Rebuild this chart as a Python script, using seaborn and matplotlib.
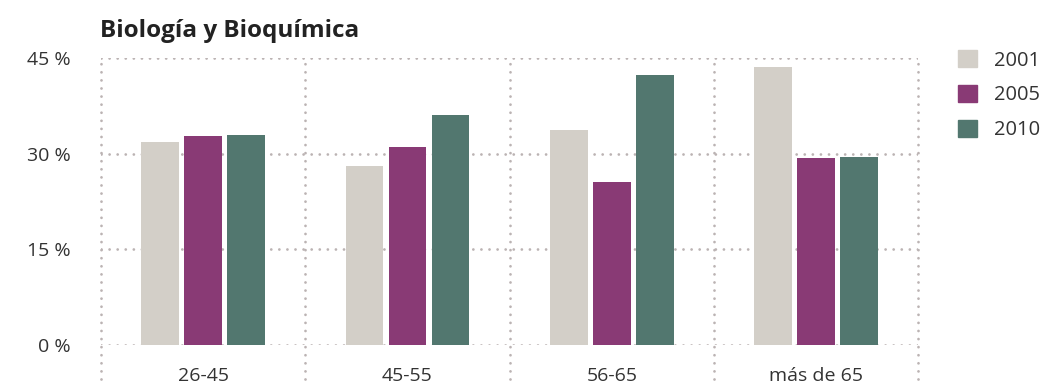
import pandas as pd
import matplotlib.pyplot as plt
import seaborn as sns

# datos
edades = ["26-45", "45-55", "56-65", "más de 65"]
anios = ["2001", "2005", "2010"]
v2001 = [31.8, 28.1, 33.7, 43.6]
v2005 = [32.8, 31.0, 25.6, 29.3]
v2010 = [32.9, 36.1, 42.3, 29.5]
colores = ["#D3CFC8", "#893A75", "#52776F"]
yticks = [0, 15, 30, 45]

df = pd.DataFrame({
    "edad": edades * 3,
    "anio": [a for a in anios for _ in edades],
    "valor": v2001 + v2005 + v2010,
})

sns.set_style("white")
plt.rcParams["font.family"] = ["Open Sans", "DejaVu Sans"]

fig = plt.figure(figsize=(10.47, 3.9), dpi=100)
ax = fig.add_axes([0.0965, 0.1154, 0.7805, 0.7359])

sns.barplot(data=df, x="edad", y="valor", hue="anio", palette=colores,
            saturation=1, width=0.63, gap=0.12, linewidth=0,
            ax=ax, legend=False, zorder=3)

ax.set_xlim(-0.5, 3.5)
ax.set_ylim(0, 45)
for s in ax.spines.values():
    s.set_visible(False)

grid_kw = dict(color="#BBB3B3", linewidth=2.0, linestyle=(0, (0.01, 2.9)),
               dash_capstyle="round", zorder=1)
for y in yticks:
    ax.axhline(y, **grid_kw)
for x in [-0.5, 0.5, 1.5, 2.5, 3.5]:
    ax.axvline(x, ymin=-0.12, ymax=1, clip_on=False, **grid_kw)

ax.set_yticks(yticks)
ax.set_yticklabels([f"{t} %" for t in yticks])
ax.tick_params(axis="y", length=0, pad=22, labelsize=14, labelcolor="#333333")
ax.tick_params(axis="x", length=0, pad=16, labelsize=14, labelcolor="#333333")
ax.set_xlabel("")
ax.set_ylabel("")

fig.text(0.0955, 0.92, "Biología y Bioquímica", fontsize=17.5, fontweight="bold",
         color="#222222", va="center", ha="left")

handles = [plt.Rectangle((0, 0), 1, 1, color=c) for c in colores]
fig.legend(handles, anios, loc="upper left", bbox_to_anchor=(0.898, 0.918),
           frameon=False, fontsize=14.5, handlelength=0.95, handleheight=0.95,
           labelspacing=0.7, handletextpad=0.8, labelcolor="#333333")

fig.savefig("out.png", dpi=100)
